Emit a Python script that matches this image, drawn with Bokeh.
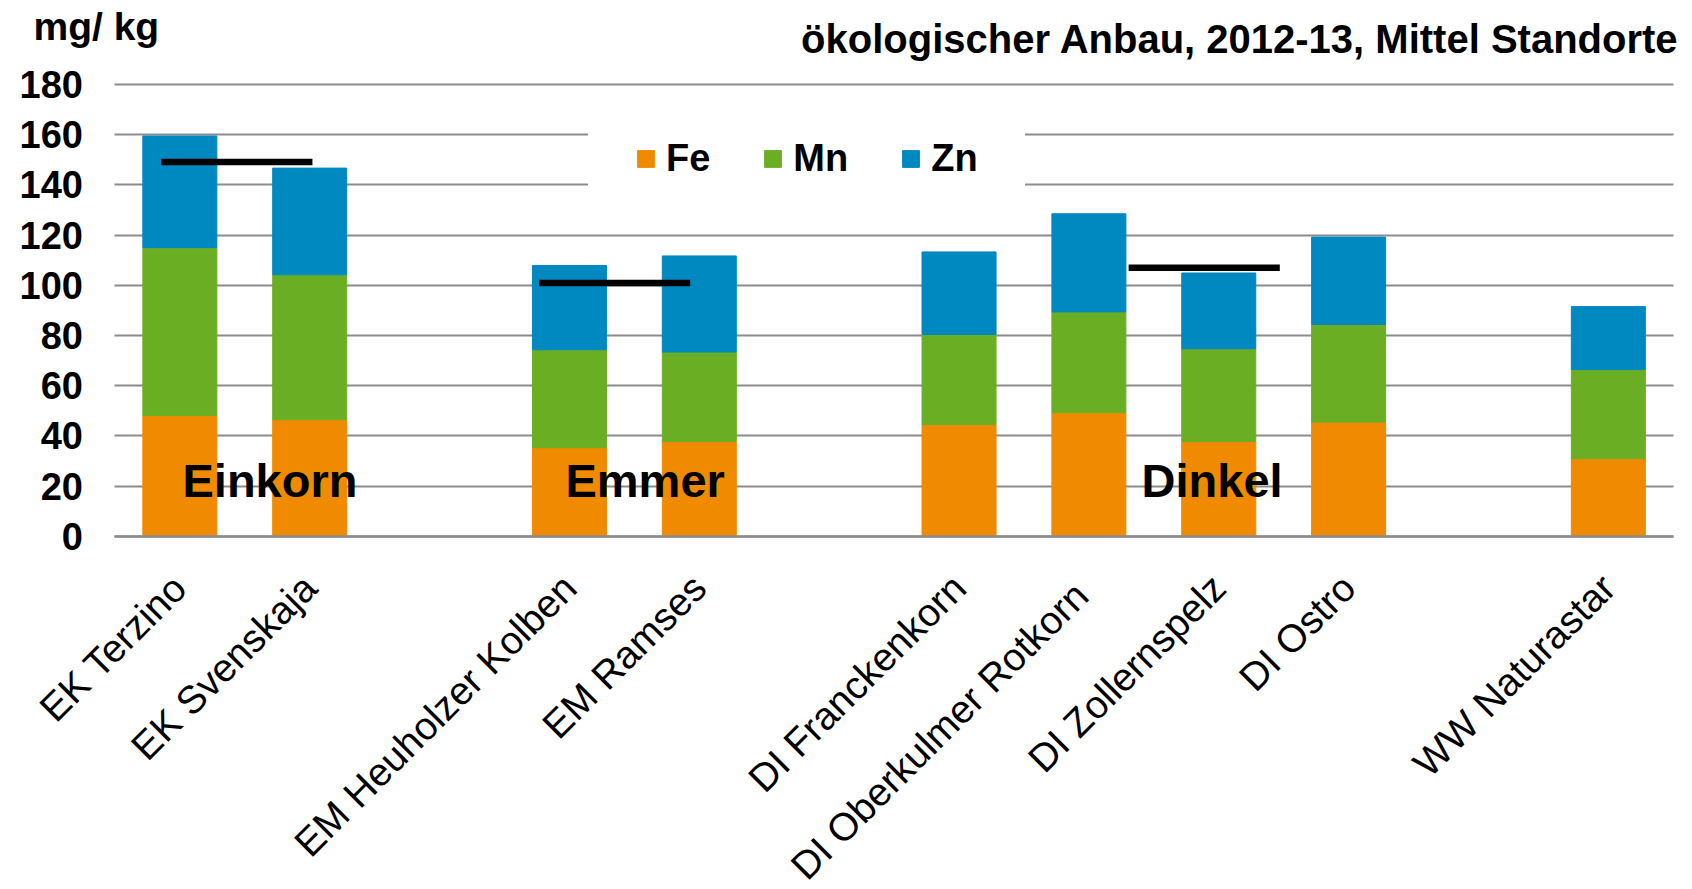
import math
from bokeh.plotting import figure
from bokeh.models import ColumnDataSource, Range1d, FixedTicker, Legend, LegendItem, Label
from bokeh.core.properties import value
from bokeh.embed import file_html
from bokeh.resources import INLINE

# ---------------- data ----------------
varieties = ["EK Terzino", "EK Svenskaja", "EM Heuholzer Kolben", "EM Ramses",
             "DI Franckenkorn", "DI  Oberkulmer Rotkorn", "DI Zollernspelz", "DI Ostro",
             "WW Naturastar"]
species = ["Einkorn", "Einkorn", "Emmer", "Emmer",
           "Dinkel", "Dinkel", "Dinkel", "Dinkel", "Weizen"]
fe = [48.1, 46.4, 35.3, 37.7, 44.5, 49.2, 37.7, 45.5, 30.9]
mn = [66.9, 57.8, 39.0, 35.7, 35.9, 40.2, 37.0, 38.9, 35.5]
zn = [44.5, 42.5, 33.6, 38.3, 32.9, 39.1, 30.2, 34.8, 25.1]
elements = ["Fe", "Mn", "Zn"]
group_names = ["Einkorn", "Emmer", "Dinkel"]
group_means = [149.1, 100.9, 107.0]
y_ticks = [0, 20, 40, 60, 80, 100, 120, 140, 160, 180]
unit_label = "mg/ kg"
title_text = "ökologischer Anbau, 2012-13, Mittel  Standorte"

# ---------------- styling / layout ----------------
FONT = "Liberation Sans"
colors = ["#F08A00", "#6AAF23", "#0088C0"]
grid_color = "#8c8c8c"

# slot positions: one empty slot between species groups
pos = []
slot = 0
prev = None
for s in species:
    if prev is not None and s != prev:
        slot += 1
    pos.append(slot)
    slot += 1
    prev = s
x_lo, x_hi = -0.5, slot - 0.5

src = ColumnDataSource(dict(x=pos, Fe=fe, Mn=mn, Zn=zn))

p = figure(width=1692, height=889, output_backend="svg", toolbar_location=None,
           x_range=Range1d(-1.381, 11.648), y_range=Range1d(-140.8, 213.5),
           min_border=0)
p.outline_line_color = None
p.background_fill_color = "white"
p.border_fill_color = "white"

renderers = p.vbar_stack(elements, x="x", width=0.57, color=colors, source=src)

# group mean lines
line_offsets = {"Einkorn": (-0.143, 1.021), "Emmer": (-0.234, 0.930), "Dinkel": (1.306, 2.470)}
x0s, x1s = [], []
for g in group_names:
    first = pos[species.index(g)]
    a, b = line_offsets[g]
    x0s.append(first + a)
    x1s.append(first + b)
p.segment(x0=x0s, y0=group_means, x1=x1s, y1=group_means, line_color="black", line_width=6.5)

# group labels
label_offsets = {"Einkorn": 0.694, "Emmer": 0.583, "Dinkel": 1.949}
lx = [pos[species.index(g)] + label_offsets[g] for g in group_names]
p.text(x=lx, y=[22.1] * len(lx), text=group_names, text_font=value(FONT),
       text_font_style="bold", text_font_size="47px", text_align="center",
       text_baseline="alphabetic", text_color="black")

# grid
p.xgrid.visible = False
p.ygrid.ticker = FixedTicker(ticks=y_ticks)
p.ygrid.grid_line_color = grid_color
p.ygrid.grid_line_width = 2
p.ygrid.cross_bounds = (x_lo, x_hi)

# y axis pinned at the left edge of the bar area
p.yaxis.fixed_location = x_lo
p.yaxis.ticker = FixedTicker(ticks=y_ticks)
p.yaxis.axis_line_color = None
p.yaxis.major_tick_line_color = None
p.yaxis.minor_tick_line_color = None
p.yaxis.major_tick_out = 0
p.yaxis.major_tick_in = 0
p.yaxis.major_label_standoff = 32
p.yaxis.major_label_text_font = FONT
p.yaxis.major_label_text_font_style = "bold"
p.yaxis.major_label_text_font_size = "38px"
p.yaxis.major_label_text_color = "black"

# x axis pinned at zero
p.xaxis.fixed_location = 0
p.xaxis.bounds = (x_lo, x_hi)
p.xaxis.ticker = FixedTicker(ticks=pos)
p.xaxis.major_label_overrides = {x: v for x, v in zip(pos, varieties)}
p.xaxis.axis_line_color = grid_color
p.xaxis.axis_line_width = 2.5
p.xaxis.major_tick_line_color = None
p.xaxis.minor_tick_line_color = None
p.xaxis.major_tick_out = 0
p.xaxis.major_tick_in = 0
p.xaxis.major_label_orientation = math.pi / 4
p.xaxis.major_label_standoff = 45
p.xaxis.major_label_text_font = FONT
p.xaxis.major_label_text_font_style = "normal"
p.xaxis.major_label_text_font_size = "39px"
p.xaxis.major_label_text_color = "black"

# legend
legend = Legend(items=[LegendItem(label=e, renderers=[r]) for e, r in zip(elements, renderers)],
                orientation="horizontal", location=(588, 662),
                glyph_width=21, glyph_height=21, label_standoff=10, spacing=52, padding=46,
                label_text_font=FONT, label_text_font_style="bold",
                label_text_font_size="38px", label_text_color="black",
                background_fill_color="white", background_fill_alpha=1.0,
                border_line_color="white", border_line_width=1)
p.add_layout(legend, "center")

# titles
p.add_layout(Label(x=-1.127, y=203.0, text=unit_label,
                   text_font=FONT, text_font_style="bold", text_font_size="39px",
                   text_align="left", text_baseline="alphabetic", text_color="black"))
p.add_layout(Label(x=11.63, y=198.1, text=title_text,
                   text_font=FONT, text_font_style="bold", text_font_size="40px",
                   text_align="right", text_baseline="alphabetic", text_color="black"))

open("out.html", "w").write(file_html(p, INLINE))
